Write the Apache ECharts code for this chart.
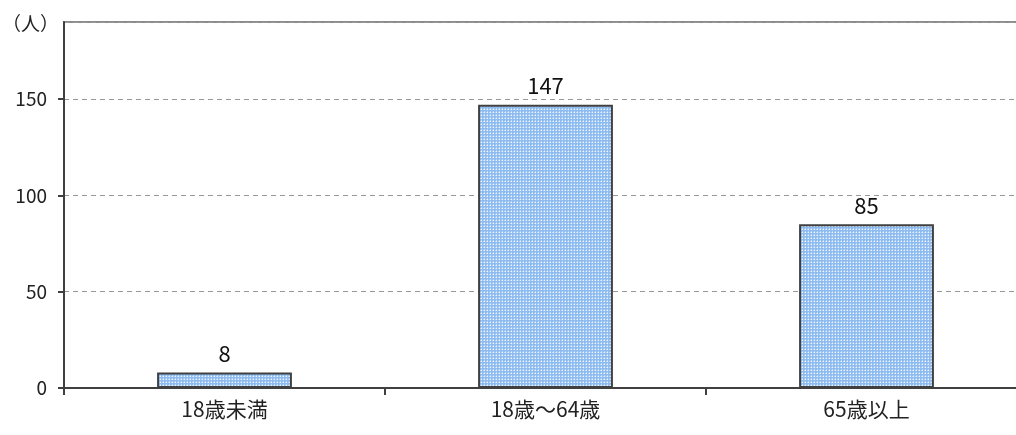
<!DOCTYPE html>
<html><head><meta charset="utf-8">
<script src="https://cdn.jsdelivr.net/npm/echarts@6/dist/echarts.min.js"></script>
<style>html,body{margin:0;padding:0;background:#fff}#c{width:1016px;height:435px}</style>
</head><body><div id="c"></div>
<script>
const categories = ['18歳未満', '18歳～64歳', '65歳以上'];
const values = [8, 147, 85];
const unitLabel = '（人）';

const pc = document.createElement('canvas');
pc.width = 3; pc.height = 3;
const g = pc.getContext('2d');
g.fillStyle = '#8ebcf0'; g.fillRect(0,0,3,3);
g.fillStyle = '#eef5fe'; g.fillRect(1,1,1,1);
g.fillStyle = '#bcd7f6'; g.fillRect(0,1,1,1); g.fillRect(1,0,1,1);

const font = '"Noto Sans CJK JP", "Noto Sans", sans-serif';
const chart = echarts.init(document.getElementById('c'), null, {renderer: 'canvas'});
chart.setOption({
  animation: false,
  textStyle: {fontFamily: font},
  grid: {left: 64, top: 22, bottom: 47, width: 963, outerBoundsMode: 'none', containLabel: false,
         show: true, borderColor: '#8c8c8c', borderWidth: 2, backgroundColor: 'transparent'},
  graphic: [{type: 'text', left: 2, top: 14, style: {text: unitLabel, font: '19px ' + font, fill: '#222'}}],
  xAxis: {
    type: 'category', data: categories,
    axisLine: {lineStyle: {color: '#404040', width: 2}},
    axisTick: {show: true, length: 7, lineStyle: {color: '#404040', width: 2}},
    axisLabel: {color: '#222', fontSize: 21, margin: 11}
  },
  yAxis: {
    type: 'value', min: 0, max: 190, interval: 50,
    axisLine: {show: true, lineStyle: {color: '#404040', width: 2}},
    axisTick: {show: true, length: 6, lineStyle: {color: '#404040', width: 2}},
    axisLabel: {color: '#222', fontSize: 19, margin: 17, showMaxLabel: false},
    splitLine: {lineStyle: {color: '#999', type: [5, 4], width: 1}}
  },
  series: [{
    type: 'bar', data: values, barWidth: '42%',
    itemStyle: {color: {image: pc, repeat: 'repeat'}, borderColor: '#404040', borderWidth: 2},
    label: {show: true, position: 'top', distance: 8, color: '#111', fontSize: 22}
  }]
});
</script></body></html>
